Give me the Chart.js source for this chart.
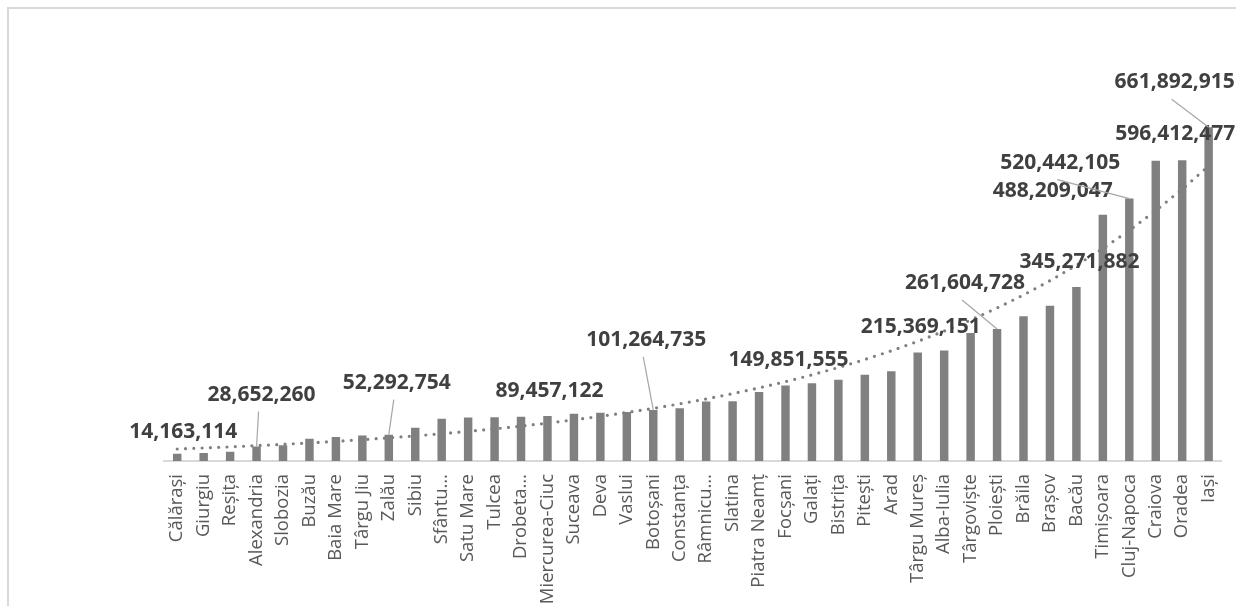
<!DOCTYPE html>
<html>
<head>
<meta charset="utf-8">
<script src="https://cdn.jsdelivr.net/npm/chart.js@4/dist/chart.umd.min.js"></script>
<style>
    html, body { margin: 0; padding: 0; background: #fff; }
    #wrap  { position: relative; width: 1236px; height: 606px; overflow: hidden; }
    #frame { position: absolute; left: 7px; top: 7px; width: 1400px; height: 800px;
             border-left: 2px solid #d9d9d9; border-top: 2px solid #d9d9d9; }
    canvas { position: absolute; left: 0; top: 0; }
</style>
</head>
<body>
<div id="wrap">
    <div id="frame"></div>
    <canvas id="chart-cities" width="1236" height="606"></canvas>
</div>
<script>
// ── Cities, sorted ascending ─────────────────────────────────────────────────

var cities = [
    'Călărași', 'Giurgiu', 'Reșița', 'Alexandria', 'Slobozia', 'Buzău', 'Baia Mare',
    'Târgu Jiu', 'Zalău', 'Sibiu', 'Sfântu…', 'Satu Mare', 'Tulcea', 'Drobeta…',
    'Miercurea-Ciuc', 'Suceava', 'Deva', 'Vaslui', 'Botoșani', 'Constanța', 'Râmnicu…',
    'Slatina', 'Piatra Neamț', 'Focșani', 'Galați', 'Bistrița', 'Pitești', 'Arad',
    'Târgu Mureș', 'Alba-Iulia', 'Târgoviște', 'Ploiești', 'Brăila', 'Brașov', 'Bacău',
    'Timișoara', 'Cluj-Napoca', 'Craiova', 'Oradea', 'Iași'
];

var values = [
    14163114, 16000000, 18500000, 28652260, 31000000, 44000000, 47500000,
    50500000, 52292754, 66000000, 84000000, 86500000, 86800000, 87800000,
    89457122, 93500000, 95500000, 97000000, 101264735, 104800000, 118000000,
    118300000, 137000000, 149851555, 154000000, 161000000, 171000000, 178000000,
    215369151, 219000000, 254000000, 261604728, 287000000, 308000000, 345271882,
    488209047, 520442105, 595500000, 596412477, 661892915
];

// which bars carry a value label (index into cities)
var labelled = [0, 3, 8, 14, 18, 23, 28, 31, 34, 35, 36, 38, 39];

// label centre relative to the bar top; lead = draw a leader line back to the bar
var labelSpots = {
    0:  { dx: 6,   dy: -22 },
    3:  { dx: 5,   dy: -52, lead: true },
    8:  { dx: 8,   dy: -52, lead: true },
    14: { dx: 2,   dy: -25 },
    18: { dx: -7,  dy: -70, lead: true },
    23: { dx: 3,   dy: -25 },
    28: { dx: 3,   dy: -25 },
    31: { dx: -32, dy: -46, lead: true },
    34: { dx: 3,   dy: -25 },
    35: { dx: -50, dy: -24 },
    36: { dx: -69, dy: -36, lead: true },
    38: { dx: -7,  dy: -26 },
    39: { dx: -34, dy: -45, lead: true }
};

// Exponential trend (least squares on ln y), like the spreadsheet trendline
function expTrend(vals) {
    var n = vals.length, sx = 0, sy = 0, sxy = 0, sxx = 0;
    for (var i = 0; i < n; i++) {
        var x = i + 1, y = Math.log(vals[i]);
        sx += x; sy += y; sxy += x * y; sxx += x * x;
    }
    var b = (n * sxy - sx * sy) / (n * sxx - sx * sx);
    var a = (sy - b * sx) / n;
    return vals.map(function (_, i) { return Math.exp(a + b * (i + 1)); });
}

var valueLabels = {
    id: 'valueLabels',
    afterDatasetsDraw: function (chart) {
        var ctx  = chart.ctx;
        var meta = chart.getDatasetMeta(1);
        var ys   = chart.scales.y;
        ctx.save();
        ctx.font         = 'bold 21px "Open Sans", sans-serif';
        ctx.fillStyle    = '#404040';
        ctx.textAlign    = 'center';
        ctx.textBaseline = 'middle';
        labelled.forEach(function (i) {
            var spot = labelSpots[i];
            var bx   = meta.data[i].x;
            var top  = ys.getPixelForValue(values[i]);
            var lx   = bx + spot.dx, ly = top + spot.dy;
            if (spot.lead) {
                ctx.strokeStyle = '#a6a6a6';
                ctx.lineWidth   = 1.2;
                ctx.beginPath();
                ctx.moveTo(lx - 3, ly + 17);
                ctx.lineTo(bx, top);
                ctx.stroke();
            }
            ctx.fillText(values[i].toLocaleString('en-US'), lx, ly);
        });
        ctx.restore();
    }
};

new Chart(document.getElementById('chart-cities'), {
    type: 'bar',
    data: {
        labels: cities,
        datasets: [
            {
                type: 'line',
                data: expTrend(values),
                borderColor: '#7f7f7f',
                borderWidth: 3.2,
                borderDash: [0, 8.3],
                borderCapStyle: 'round',
                pointRadius: 0,
                fill: false,
                tension: 0,
                order: 0
            },
            {
                type: 'bar',
                data: values,
                backgroundColor: '#808080',
                barPercentage: 0.32,
                categoryPercentage: 1,
                order: 1
            }
        ]
    },
    options: {
        responsive: false,
        animation: false,
        layout: { padding: { left: 164, right: 13, top: 108, bottom: 0 } },
        plugins: {
            legend:  { display: false },
            tooltip: { enabled: false }
        },
        scales: {
            x: {
                grid:   { display: false },
                border: { display: true, color: '#d9d9d9', width: 2 },
                ticks: {
                    autoSkip: false,
                    minRotation: 90,
                    maxRotation: 90,
                    padding: 5,
                    color: '#595959',
                    font: { family: '"Open Sans", sans-serif', size: 18.5 }
                },
                afterFit: function (s) { s.height = 145; }
            },
            y: { display: false, min: 0, max: 700000000 }
        }
    },
    plugins: [valueLabels]
});
</script>
</body>
</html>
